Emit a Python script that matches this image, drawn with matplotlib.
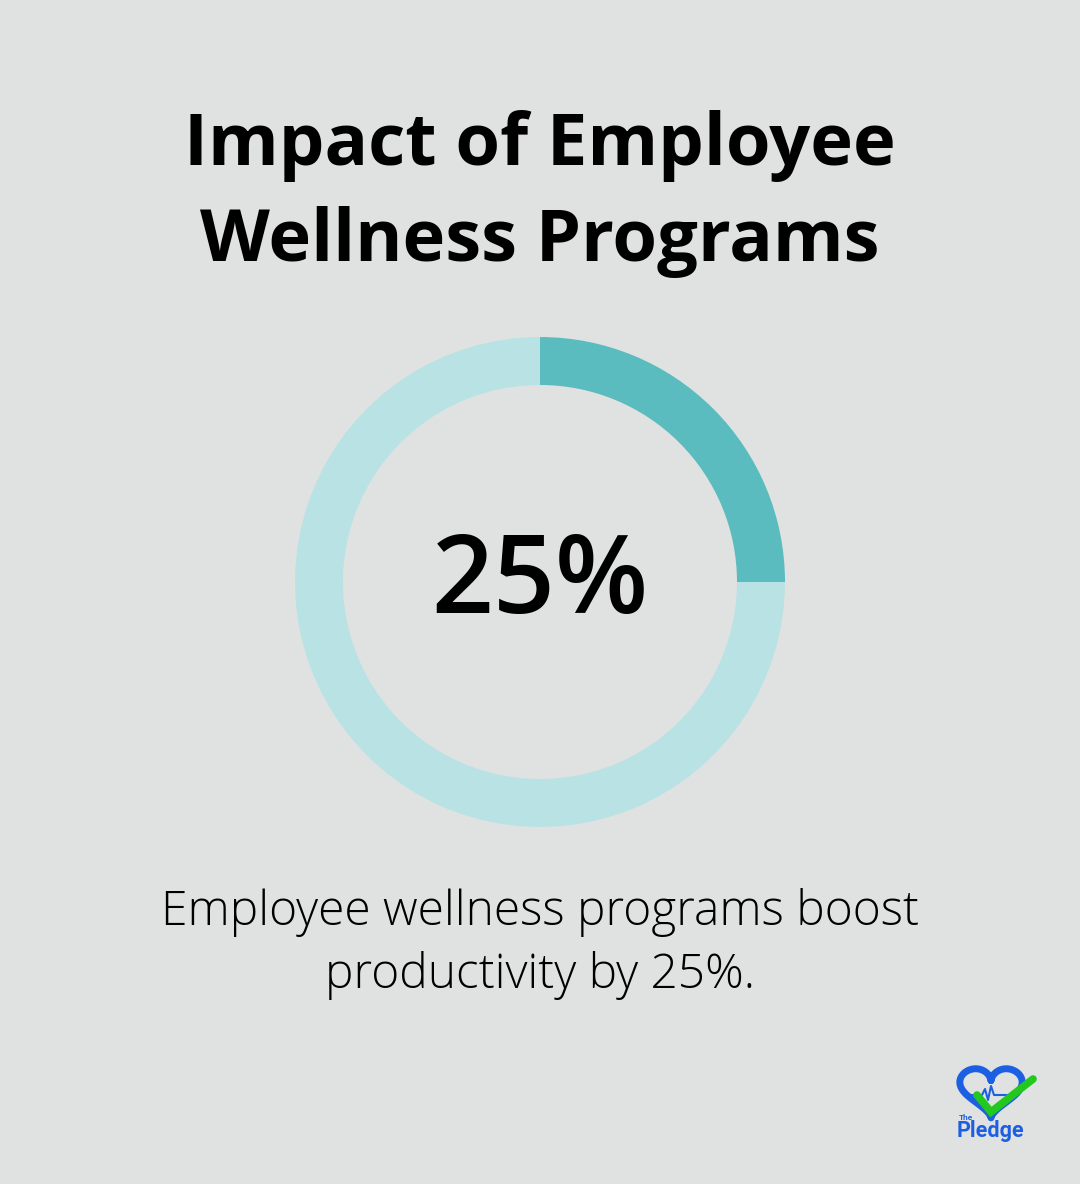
import numpy as np
import matplotlib
matplotlib.use("Agg")
import matplotlib.pyplot as plt

# data
title = "Impact of Employee\nWellness Programs"
share = 25
values = [share, 100 - share]
ring_colors = ["#5BBCBF", "#B9E2E4"]
caption = "Employee wellness programs boost\nproductivity by 25%."

bg = "#E0E2E1"
W, H = 1080, 1184

fig = plt.figure(figsize=(W / 100, H / 100), dpi=100, facecolor=bg)

# full-figure axes in pixel coords for text + logo
ax = fig.add_axes([0, 0, 1, 1])
ax.set_xlim(0, W)
ax.set_ylim(H, 0)
ax.axis("off")
ax.set_facecolor(bg)

ax.text(540, 194, title, ha="center", va="center", fontsize=52,
        fontfamily="Open Sans", fontweight="bold", color="#000000",
        linespacing=1.45)

# donut
cx, cy, r = 540, 582, 245
pax = fig.add_axes([(cx - r) / W, (H - cy - r) / H, 2 * r / W, 2 * r / H])
pax.pie(values, colors=ring_colors, startangle=90, counterclock=False,
        radius=1, wedgeprops=dict(width=48 / r, linewidth=0))
pax.set_xlim(-1, 1)
pax.set_ylim(-1, 1)
pax.set_aspect("equal")
pax.axis("off")

ax.text(540, 584, f"{share}%", ha="center", va="center", fontsize=78,
        fontfamily="Open Sans", fontweight="semibold", color="#000000")

ax.text(540, 944, caption, ha="center", va="center", fontsize=34.5,
        fontfamily="Open Sans", fontweight="light", color="#000000",
        linespacing=1.36)

# logo: heart + pulse + check
blue = "#1D5FE3"
green = "#22C81E"
t = np.linspace(0, 2 * np.pi, 200)
hx = 16 * np.sin(t) ** 3
hy = 13 * np.cos(t) - 5 * np.cos(2 * t) - 2 * np.cos(3 * t) - np.cos(4 * t)
ax.plot(991 + hx * 1.95, 1089 - hy * 1.7, color=blue, lw=5,
        solid_capstyle="round")
px = [970, 982, 985, 988, 991, 994, 1000, 1012]
py = [1095, 1095, 1089, 1100, 1086, 1095, 1095, 1095]
ax.plot(px, py, color=blue, lw=1.5)
ax.plot([977, 991, 1033], [1095, 1112, 1079], color=green, lw=5.5,
        solid_capstyle="round", solid_joinstyle="miter")
ax.text(959, 1118, "The", fontsize=6, fontweight="bold", color=blue,
        fontfamily="Roboto", va="center", ha="left")
ax.text(957, 1131, "Pledge", fontsize=15.5, fontweight="bold", color=blue,
        fontfamily="Roboto", va="center", ha="left")

fig.savefig("out.png", dpi=100, facecolor=bg)
